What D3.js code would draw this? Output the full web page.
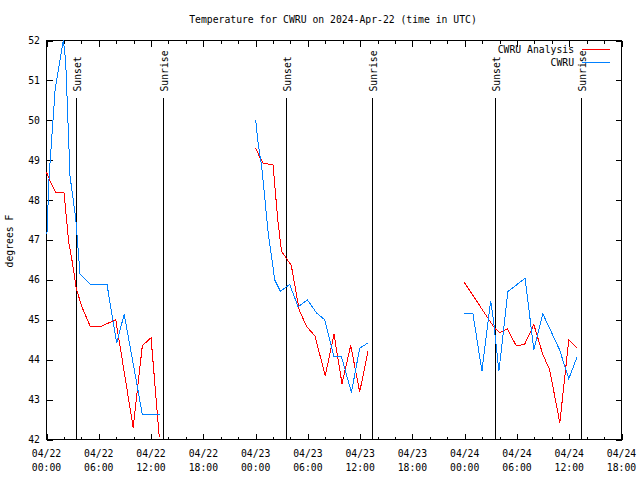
<!DOCTYPE html>
<html>
<head>
<meta charset="utf-8">
<script src="https://cdn.jsdelivr.net/npm/d3@7/dist/d3.min.js"></script>
<style>
  html, body { margin: 0; padding: 0; background: #fff; }
  svg { display: block; }
  text { font-family: "DejaVu Sans Mono", "Liberation Mono", monospace; font-size: 9.75px; fill: #000; }
</style>
</head>
<body>
<svg id="chart" width="640" height="480"></svg>
<script>
// ---- Data (hours since 2024-04-22 00:00 UTC) ----
const titleText = "Temperature for CWRU on 2024-Apr-22 (time in UTC)";
const yLabelText = "degrees F";
const seriesNames = ["CWRU Analysis", "CWRU"];

const xTickHours = [0, 6, 12, 18, 24, 30, 36, 42, 48, 54, 60, 66];
const xTickDates = ["04/22","04/22","04/22","04/22","04/23","04/23","04/23","04/23","04/24","04/24","04/24","04/24"];
const xTickTimes = ["00:00","06:00","12:00","18:00","00:00","06:00","12:00","18:00","00:00","06:00","12:00","18:00"];
const yTicks = [42, 43, 44, 45, 46, 47, 48, 49, 50, 51, 52];

const sunsetHours = [3.42, 27.45, 51.47];
const sunriseHours = [13.39, 37.37, 61.37];

// CWRU Analysis (red); null marks a gap
const analysisHours = [0.0, 0.5, 1.05, 2.0, 2.55, 3.0, 3.4, 4.05, 5.05, 6.1, 7.95, 9.95, 11.0, 12.0, 12.95,
  null,
  24.0, 24.5, 24.85, 26.0, 26.55, 26.97, 27.6, 28.1, 29.0, 29.85, 30.8, 32.0, 33.0, 33.92, 34.92, 35.95, 36.9,
  null,
  47.95, 51.4, 52.0, 52.9, 53.92, 54.87, 55.94, 56.97, 57.75, 58.92, 59.95, 60.92];
const analysisTemps = [48.7, 48.43, 48.2, 48.2, 46.95, 46.4, 45.8, 45.33, 44.82, 44.82, 45.0, 42.3, 44.35, 44.55, 42.05,
  null,
  49.3, 49.07, 48.93, 48.88, 47.5, 46.72, 46.52, 46.36, 45.25, 44.83, 44.6, 43.6, 44.64, 43.4, 44.36, 43.19, 44.22,
  null,
  45.94, 44.8, 44.68, 44.77, 44.35, 44.38, 44.88, 44.13, 43.75, 42.42, 44.5, 44.29];

// CWRU observations (blue)
const obsHours = [0.05, 0.3, 1.0, 1.93, 2.2, 2.7, 3.35, 3.85, 4.3, 5.05, 6.95, 8.05, 8.92, 11.0, 13.0,
  null,
  24.0, 24.3, 24.7, 25.45, 26.2, 26.86, 27.47, 27.92, 28.88, 29.95, 31.0, 31.94, 33.0, 33.85, 35.0, 35.95, 36.9,
  null,
  47.92, 48.95, 49.98, 50.98, 51.3, 51.93, 52.96, 53.92, 54.93, 55.94, 56.97, 57.93, 58.89, 59.95, 60.92];
const obsTemps = [47.15, 48.6, 50.8, 52.0, 51.5, 48.6, 47.55, 46.15, 46.05, 45.88, 45.88, 44.42, 45.14, 42.63, 42.63,
  null,
  50.02, 49.4, 48.85, 47.17, 46.0, 45.71, 45.82, 45.88, 45.33, 45.5, 45.17, 45.0, 44.08, 44.08, 43.18, 44.29, 44.42,
  null,
  45.15, 45.15, 43.71, 45.48, 45.0, 43.71, 45.71, 45.87, 46.04, 44.25, 45.15, 44.7, 44.25, 43.52, 44.08];

const seriesColors = ["#ff0000", "#0080ff"];

// ---- Layout ----
const svg = d3.select("#chart");
const pLeft = 46.5, pRight = 621.5, pTop = 40.5, pBottom = 439.5;

const x = d3.scaleLinear().domain([0, 66]).range([pLeft, pRight]);
const y = d3.scaleLinear().domain([42, 52]).range([pBottom, pTop]);

// title
svg.append("text").attr("x", 333).attr("y", 23).attr("text-anchor", "middle").text(titleText);

// y label
svg.append("text")
  .attr("transform", `translate(13,241) rotate(-90)`)
  .attr("text-anchor", "middle").text(yLabelText);

// axes (inward ticks, mirrored)
function styleAxis(g) {
  g.select(".domain").remove();
  g.selectAll(".tick line").attr("stroke", "#000").attr("shape-rendering", "crispEdges");
  g.selectAll(".tick text").remove();
}
const minorHours = d3.range(0, 67, 2);
svg.append("g").attr("transform", `translate(0,${pBottom})`)
  .call(d3.axisBottom(x).tickValues(minorHours).tickSize(-3).tickFormat("")).call(styleAxis);
svg.append("g").attr("transform", `translate(0,${pTop})`)
  .call(d3.axisTop(x).tickValues(minorHours).tickSize(-3).tickFormat("")).call(styleAxis);
svg.append("g").attr("transform", `translate(0,${pBottom})`)
  .call(d3.axisBottom(x).tickValues(xTickHours).tickSize(-6).tickFormat("")).call(styleAxis);
svg.append("g").attr("transform", `translate(0,${pTop})`)
  .call(d3.axisTop(x).tickValues(xTickHours).tickSize(-6).tickFormat("")).call(styleAxis);
svg.append("g").attr("transform", `translate(${pLeft},0)`)
  .call(d3.axisLeft(y).tickValues(yTicks).tickSize(-6).tickFormat("")).call(styleAxis);
svg.append("g").attr("transform", `translate(${pRight},0)`)
  .call(d3.axisRight(y).tickValues(yTicks).tickSize(-6).tickFormat("")).call(styleAxis);

// tick labels
svg.append("g").selectAll("text").data(yTicks).join("text")
  .attr("x", 40).attr("y", d => y(d)).attr("dy", "0.35em")
  .attr("text-anchor", "end").text(d => d);
const xl = svg.append("g").selectAll("g").data(xTickHours).join("g")
  .attr("transform", d => `translate(${x(d)},0)`);
xl.append("text").attr("y", 457).attr("text-anchor", "middle").text((d, i) => xTickDates[i]);
xl.append("text").attr("y", 471).attr("text-anchor", "middle").text((d, i) => xTickTimes[i]);

// border
svg.append("rect").attr("x", pLeft).attr("y", pTop).attr("width", pRight - pLeft).attr("height", pBottom - pTop)
  .attr("fill", "none").attr("stroke", "#000").attr("shape-rendering", "crispEdges");

// sunset / sunrise markers
const markers = sunsetHours.map(h => ({h, label: "Sunset"}))
  .concat(sunriseHours.map(h => ({h, label: "Sunrise"})));
const mk = svg.append("g").selectAll("g").data(markers).join("g");
mk.append("line")
  .attr("x1", d => Math.round(x(d.h)) + 0.5).attr("x2", d => Math.round(x(d.h)) + 0.5)
  .attr("y1", 98).attr("y2", pBottom)
  .attr("stroke", "#000").attr("shape-rendering", "crispEdges");
mk.append("text")
  .attr("transform", d => `translate(${Math.round(x(d.h)) + 5},91.5) rotate(-90)`)
  .attr("text-anchor", "start").text(d => d.label);

// data lines
function toPoints(hs, vs) { return hs.map((h, i) => [h, vs[i]]); }
const line = d3.line()
  .defined(d => d[0] !== null && d[1] !== null)
  .x(d => x(d[0])).y(d => y(d[1]));
const allSeries = [toPoints(analysisHours, analysisTemps), toPoints(obsHours, obsTemps)];
svg.append("g").selectAll("path").data(allSeries).join("path")
  .attr("d", line)
  .attr("fill", "none")
  .attr("stroke", (d, i) => seriesColors[i])
  .attr("stroke-width", 1)
  .attr("shape-rendering", "crispEdges");

// legend
const lg = svg.append("g").selectAll("g").data(seriesNames).join("g")
  .attr("transform", (d, i) => `translate(0,${49.5 + i * 13})`);
lg.append("text").attr("x", 574).attr("y", 0).attr("dy", "0.35em").attr("text-anchor", "end").text(d => d);
lg.append("line").attr("x1", 582).attr("x2", 610).attr("y1", 0).attr("y2", 0)
  .attr("stroke", (d, i) => seriesColors[i]).attr("shape-rendering", "crispEdges");
</script>
</body>
</html>
